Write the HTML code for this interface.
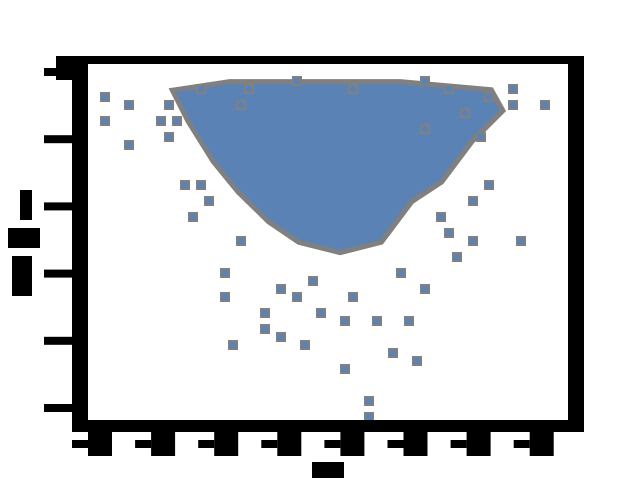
<!DOCTYPE html>
<html><head><meta charset="utf-8"><style>
html,body{margin:0;padding:0;background:#fff;width:640px;height:480px;overflow:hidden;font-family:"Liberation Sans",sans-serif}
</style></head><body>
<svg id="chart" width="640" height="480" viewBox="0 0 640 480" xmlns="http://www.w3.org/2000/svg">
<rect x="0" y="0" width="640" height="480" fill="#fff"/>
<g id="blob"></g>
<g id="pts"></g>
<g id="frame">
<rect x="72" y="56" width="16" height="376" fill="#000"/>
<rect x="72" y="56" width="512" height="8" fill="#000"/>
<rect x="568" y="56" width="16" height="376" fill="#000"/>
<rect x="72" y="420" width="512" height="12" fill="#000"/>
<rect x="56" y="56" width="32" height="24" fill="#000"/>
</g>
<g id="yticks"></g>
<g id="xticks"></g>
<rect x="312" y="462" width="32" height="16" fill="#000"/>
<g>
<rect x="20" y="190" width="12" height="30" fill="#000"/>
<rect x="8" y="228" width="32" height="20" fill="#000"/>
<rect x="12" y="256" width="20" height="40" fill="#000"/>
</g>
<text x="320" y="476" font-size="1" fill="#000">x</text>
</svg>
<script>
const xTicks=[0,1,2,3,4,5,6,7];
const yTicks=[0,1,2,3,4,5];
const ptX=[0.13,0.19,0.57,0.57,1.14,1.39,1.58,1.08,1.65,2.35,3.17,4.06,5.26,5.64,6.59,7.16,6.59,6.21,6.15,5.90,6.66,5.71,5.26,4.94,4.63,5.13,3.93,4.37,4.25,3.30,2.92,2.16,2.60,2.09,1.97,2.92,2.22,3.23,4.03,4.50,4.82,2.60,3.55,3.99,3.42,1.65,1.78,5.45,5.64,5.90,1.33,1.01,2.28,5.77,6.09,5.26];
const ptY=[4.29,4.70,4.58,3.93,4.05,3.33,2.86,4.52,4.82,4.82,4.94,4.82,4.94,4.82,4.82,4.58,4.58,4.70,3.33,2.50,2.50,2.26,1.79,1.31,0.83,0.77,0.54,0.06,-0.06,0.95,1.13,1.01,1.19,1.67,2.02,1.73,2.50,1.61,1.61,1.31,2.02,1.46,1.37,1.31,1.90,3.39,3.15,2.86,2.62,3.15,4.29,4.29,4.58,4.46,3.99,4.14];
const blobX=[1.27,2.12,3.23,4.82,6.24,6.40,5.93,5.45,4.98,4.50,3.87,3.23,2.76,2.28,1.89,1.49];
const blobY=[4.70,4.82,4.82,4.82,4.70,4.43,3.99,3.39,3.10,2.50,2.35,2.50,2.80,3.24,3.69,4.29];
const sx=v=>96+v*63.1, sy=v=>408-v*67.2;
const NS="http://www.w3.org/2000/svg";
const blob=document.getElementById('blob');
const pstr=blobX.map((v,i)=>sx(v)+','+sy(blobY[i])).join(' ');
const pg=document.createElementNS(NS,'polygon');
pg.setAttribute('points',pstr);
pg.setAttribute('fill','#5a82b4');pg.setAttribute('stroke','#808080');pg.setAttribute('stroke-width','10');pg.setAttribute('stroke-linejoin','miter');


blob.appendChild(pg);
const pg2=document.createElementNS(NS,'polygon');
pg2.setAttribute('points',pstr);
pg2.setAttribute('fill','#5a82b4');


blob.appendChild(pg2);
const pts=document.getElementById('pts');
ptX.forEach((v,i)=>{
 const x=Math.round(sx(v)/8)*8, y=Math.round(sy(ptY[i])/8)*8;
 const r=document.createElementNS(NS,'rect');
 r.setAttribute('x',x-4);r.setAttribute('y',y-4);r.setAttribute('width',10);r.setAttribute('height',10);r.setAttribute('fill','#808080');
 
 
 pts.appendChild(r);
 const c=document.createElementNS(NS,'rect');
 c.setAttribute('x',x-2);c.setAttribute('y',y-2);c.setAttribute('width',6);c.setAttribute('height',6);c.setAttribute('fill','#5a82b4');
 
 
 pts.appendChild(c);
});
const yt=document.getElementById('yticks');
yTicks.forEach(v=>{
 const y=sy(v);
 const r=document.createElementNS(NS,'rect');
 r.setAttribute('x',44);r.setAttribute('y',y-4);r.setAttribute('width',44);r.setAttribute('height',8);r.setAttribute('fill','#000');
 
 
 yt.appendChild(r);
 const t=document.createElementNS(NS,'text');
 t.setAttribute('x',40);t.setAttribute('y',y);t.setAttribute('font-size','1');t.textContent=v;
 
 
 yt.appendChild(t);
});
const xt=document.getElementById('xticks');
xTicks.forEach(v=>{
 const x=sx(v);
 const r=document.createElementNS(NS,'rect');
 r.setAttribute('x',x-8);r.setAttribute('y',432);r.setAttribute('width',24);r.setAttribute('height',24);r.setAttribute('fill','#000');
 
 
 xt.appendChild(r);
 const r2=document.createElementNS(NS,'rect');
 r2.setAttribute('x',x-24);r2.setAttribute('y',440);r2.setAttribute('width',16);r2.setAttribute('height',8);r2.setAttribute('fill','#000');
 
 
 xt.appendChild(r2);
 const t=document.createElementNS(NS,'text');
 t.setAttribute('x',x);t.setAttribute('y',450);t.setAttribute('font-size','1');t.textContent=v;
 
 
 xt.appendChild(t);
});
</script>
</body></html>
